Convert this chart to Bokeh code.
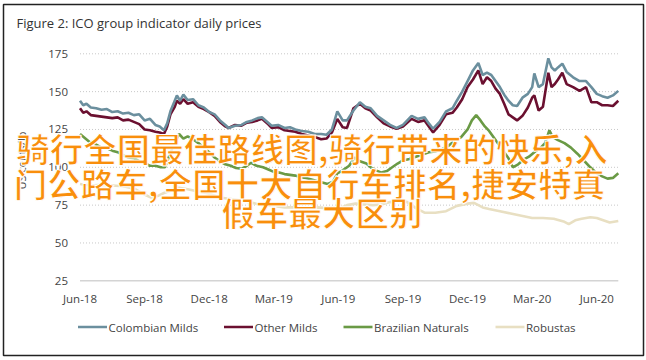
from bokeh.plotting import figure
from bokeh.models import Range1d, Label
from bokeh.core.properties import value
from bokeh.embed import file_html
from bokeh.resources import INLINE
import math

# ---- data (x = months since Jun-2018) ----
tick_months = [0, 3, 6, 9, 12, 15, 18, 21, 24]
tick_labels = ["Jun-18", "Sep-18", "Dec-18", "Mar-19", "Jun-19",
               "Sep-19", "Dec-19", "Mar-20", "Jun-20"]
y_ticks = [25, 50, 75, 100, 125, 150, 175]

colombian_x = [0.0, 0.15, 0.3, 0.5, 0.75, 1.0, 1.25, 1.5, 1.75, 2.0, 2.25, 2.5, 2.75, 3.0, 3.25, 3.5, 3.7, 3.9,
               4.05, 4.2, 4.4, 4.5, 4.65, 4.8, 5.0, 5.25, 5.5, 5.75, 6.0, 6.25, 6.5, 6.75, 6.9, 7.2, 7.5, 7.75,
               8.0, 8.25, 8.45, 8.7, 8.9, 9.2, 9.5, 9.75, 10.0, 10.3, 10.6, 10.9, 11.2, 11.45, 11.7, 11.95,
               12.2, 12.4, 12.7, 13.0, 13.25, 13.5, 13.8, 14.1, 14.4, 14.7, 15.0, 15.4, 15.7, 16.0, 16.2, 16.4,
               16.7, 17.0, 17.3, 17.5, 17.75, 18.0, 18.25, 18.5, 18.7, 18.9, 19.1, 19.3, 19.5, 19.7, 19.9,
               20.1, 20.3, 20.55, 20.8, 21.0, 21.1, 21.3, 21.5, 21.75, 21.9, 22.05, 22.2, 22.4, 22.6, 22.9,
               23.2, 23.5, 23.75, 24.0, 24.25, 24.5, 24.75, 25.0]
colombian = [144, 141, 142, 139.5, 139, 138, 138.5, 136.5, 137, 135.5, 136, 134.5, 135, 131, 132, 128, 127, 124.5,
             129, 137, 144, 147.5, 144, 148, 144.5, 145, 141, 139.5, 136.5, 135, 131, 128, 126, 127.5, 128, 130,
             131, 132.5, 133, 130, 127.5, 128, 126, 126.5, 125, 124, 123.5, 122, 122, 121.5, 125, 137,
             131, 131, 137.5, 143, 140, 139, 134, 131, 128, 126, 128, 134, 132, 133, 129, 125.5,
             130, 137, 139, 144, 150, 157, 164, 169, 161, 162.5, 161, 157, 153, 148, 144,
             141, 140.5, 146, 148.5, 153, 162, 153, 155, 172, 166, 164, 166, 168.5, 163, 159.5,
             157, 157, 153, 148.5, 147, 146, 147.5, 150.5]

other_x = colombian_x
other = [139, 136, 137, 134.5, 134, 133.5, 133, 132.5, 133, 131, 131.5, 130, 128.5, 125, 124.5, 123.5, 123, 122,
         127, 135, 140, 144, 142, 145, 142, 143, 140, 138.5, 136.5, 134, 130, 127, 126, 128, 127.5, 129.5,
         130, 131, 132, 129, 126, 126.5, 124.5, 124, 123.5, 122, 121, 120, 118.5, 119, 123, 132,
         126.5, 126, 139, 142, 139, 137.5, 133, 129, 127, 125.5, 127, 132, 130, 131, 127, 123,
         128, 135, 136, 139.5, 145, 153, 158, 164, 155, 159.5, 157, 152, 148.5, 142, 135,
         133, 131, 134, 139.5, 146, 147.5, 137.5, 140, 162.5, 153, 155, 158, 162.5, 155, 153,
         150.5, 153, 143, 143, 141, 141, 140.5, 144]

brazil_x = [0.0, 0.25, 0.5, 0.75, 1.0, 1.25, 1.5, 1.75, 2.0, 2.25, 2.5, 2.75, 3.0, 3.25, 3.5, 3.75, 3.95,
            4.1, 4.3, 4.5, 4.6, 4.8, 5.0, 5.2, 5.5, 5.75, 6.0, 6.25, 6.5, 6.75, 7.0, 7.25, 7.5, 7.75, 7.95,
            8.2, 8.5, 8.75, 9.0, 9.25, 9.5, 9.75, 10.0, 10.25, 10.5, 10.75, 11.0, 11.25, 11.5, 11.75, 11.95,
            12.2, 12.5, 12.75, 13.0, 13.3, 13.5, 13.75, 14.0, 14.25, 14.5, 14.75, 15.0, 15.3, 15.6, 15.9,
            16.2, 16.5, 16.8, 17.1, 17.4, 17.7, 18.0, 18.2, 18.4, 18.6, 18.8, 19.0, 19.2, 19.45, 19.7, 19.9,
            20.1, 20.35, 20.6, 20.85, 21.1, 21.4, 21.6, 21.8, 21.95, 22.2, 22.5, 22.8, 23.1, 23.4, 23.7,
            24.0, 24.25, 24.5, 24.75, 25.0]
brazil = [122, 119, 116, 115, 113, 112.5, 111, 110, 108, 106.5, 106, 104, 103, 101, 101, 100, 100,
          106, 113, 119, 122, 119, 120.5, 119, 116, 113, 110, 106.5, 104, 102, 101, 99.5, 99, 101, 103,
          101, 100, 98.5, 97, 96.5, 95.5, 95, 94.5, 93.5, 93, 92, 91, 90, 89, 90.5, 96,
          98, 101, 106.5, 104, 102.5, 100, 98, 96.5, 97.5, 100, 102.5, 104.5, 105.5, 107, 108.5,
          110, 110.5, 112, 114, 117.5, 120, 125, 131, 134.5, 131, 127, 124, 120, 115, 110, 106,
          100, 102, 105, 107, 110, 113, 116, 124.5, 120, 118, 116, 113, 109, 104.5, 100,
          96, 94, 92.5, 93, 96]

robusta_x = [0.0, 0.5, 1.0, 1.5, 2.0, 2.5, 3.0, 3.3, 3.6, 3.9, 4.3, 4.6, 5.0, 5.5, 6.0, 6.5, 7.0, 7.5,
             8.0, 8.5, 9.0, 9.5, 10.0, 10.5, 11.0, 11.5, 12.0, 12.4, 12.8, 13.2, 13.6, 14.0, 14.4, 14.8,
             15.2, 15.6, 16.0, 16.5, 17.0, 17.5, 18.0, 18.3, 18.7, 19.0, 19.5, 20.0, 20.5, 21.0, 21.5,
             22.0, 22.5, 22.7, 23.0, 23.3, 23.7, 24.0, 24.3, 24.6, 25.0]
robusta = [89, 88, 88.5, 88, 87.5, 86, 82, 80, 81, 83, 85, 86.5, 85.5, 84, 82.5, 80, 79, 78,
           76.5, 75, 74.5, 73.5, 73.5, 73, 73.5, 73, 72.5, 75, 76, 75.5, 75, 75.5, 77, 78,
           77, 73, 70, 70, 71, 74.5, 76, 76.5, 73.5, 72.5, 71, 69.5, 68, 66.5, 66.5,
           66, 64, 62.5, 65, 66, 67, 66.5, 65, 63.5, 64.5]

series_names = ["Colombian Milds", "Other Milds", "Brazilian Naturals", "Robustas"]
series_colors = ["#6b8f9e", "#6b1030", "#6a9a45", "#e8dfc2"]

title_text = "Figure 2: ICO group indicator daily prices"
y_title = "US cents/lb"
overlay_lines = ["骑行全国最佳路线图,骑行带来的快乐,入",
                 "门公路车,全国十大自行车排名,捷安特真",
                 "假车最大区别"]

FONT = "Open Sans"
W, H = 645, 358

# ---- layout: the plot frame covers the whole canvas (canvas starts at the page corner) ----
PX_M = 21.532        # pixels per month
PX_V = 227 / 150     # pixels per US cent
XL = -79.5 / PX_M
XR = XL + W / PX_M
YT = 175 + 53.3 / PX_V
YB = YT - H / PX_V


def px2m(px):
    return XL + px / PX_M


def py2v(py):
    return YT - py / PX_V


p = figure(frame_width=W, frame_height=H, output_backend="svg", toolbar_location=None,
           x_range=Range1d(XL, XR), y_range=Range1d(YB, YT),
           x_axis_location=None, y_axis_location=None, title_location=None, min_border=0)
p.xgrid.visible = False
p.ygrid.visible = False
p.outline_line_color = None
p.background_fill_color = "white"
p.border_fill_color = "white"

# outer border box
p.quad(left=[px2m(3)], right=[px2m(643)], top=[py2v(4)], bottom=[py2v(355)],
       fill_color=None, line_color="#222222", line_width=1.5)

X0, X1 = colombian_x[0], colombian_x[-1]

# title
p.text(x=[px2m(16)], y=[py2v(22.5)], text=[title_text], text_align="left", text_baseline="middle",
       text_font=value(FONT), text_font_size="13px", text_color="#333333")

# grid lines
grid_y = y_ticks[1:]
p.segment(x0=[X0] * len(grid_y), x1=[X1] * len(grid_y), y0=grid_y, y1=grid_y,
          line_color="#c8c8c8", line_dash="1 2", line_width=1)
p.segment(x0=[X0], x1=[X1], y0=[y_ticks[0]], y1=[y_ticks[0]], line_color="#d4d4d4", line_width=1.5)

# y tick labels and axis title
p.text(x=[px2m(67.5)] * len(y_ticks), y=y_ticks, text=[str(v) for v in y_ticks],
       text_align="right", text_baseline="middle", text_font=value(FONT),
       text_font_size="11.5px", text_color="#444444")
p.text(x=[px2m(21)], y=[py2v(160)], text=[y_title], angle=math.pi / 2,
       text_align="center", text_baseline="middle", text_font=value(FONT),
       text_font_size="11px", text_color="#444444")

# x tick labels
p.text(x=tick_months, y=[py2v(297.5)] * len(tick_months), text=tick_labels,
       text_align="center", text_baseline="middle", text_font=value(FONT),
       text_font_size="11.5px", text_color="#444444")

# series (draw Robustas first so darker lines sit on top)
xs = [colombian_x, other_x, brazil_x, robusta_x]
ys = [colombian, other, brazil, robusta]
for x, y, c in zip(xs[::-1], ys[::-1], series_colors[::-1]):
    p.line(x, y, line_color=c, line_width=2.6)

# legend row
leg_px = [77.5, 223.5, 343.0, 495.0]
leg_y = py2v(326.5)
p.segment(x0=[px2m(a) for a in leg_px], x1=[px2m(a + 29) for a in leg_px],
          y0=[leg_y] * 4, y1=[leg_y] * 4, line_color=series_colors, line_width=2.6)
p.text(x=[px2m(a + 30.5) for a in leg_px], y=[leg_y] * 4, text=series_names,
       text_align="left", text_baseline="middle", text_font=value(FONT),
       text_font_size="11.5px", text_color="#444444")

# orange overlay text
for txt, cx, cy in zip(overlay_lines, [311.5, 309.0, 321.5], [147.0, 182.0, 211.0]):
    p.add_layout(Label(x=px2m(cx), y=py2v(cy), text=txt, text_align="center", text_baseline="middle",
                       text_font="Noto Sans CJK SC", text_font_style="bold",
                       text_font_size="33.5px", text_color="#f98e0c",
                       text_outline_color="white"))

open("out.html", "w").write(file_html(p, INLINE))
